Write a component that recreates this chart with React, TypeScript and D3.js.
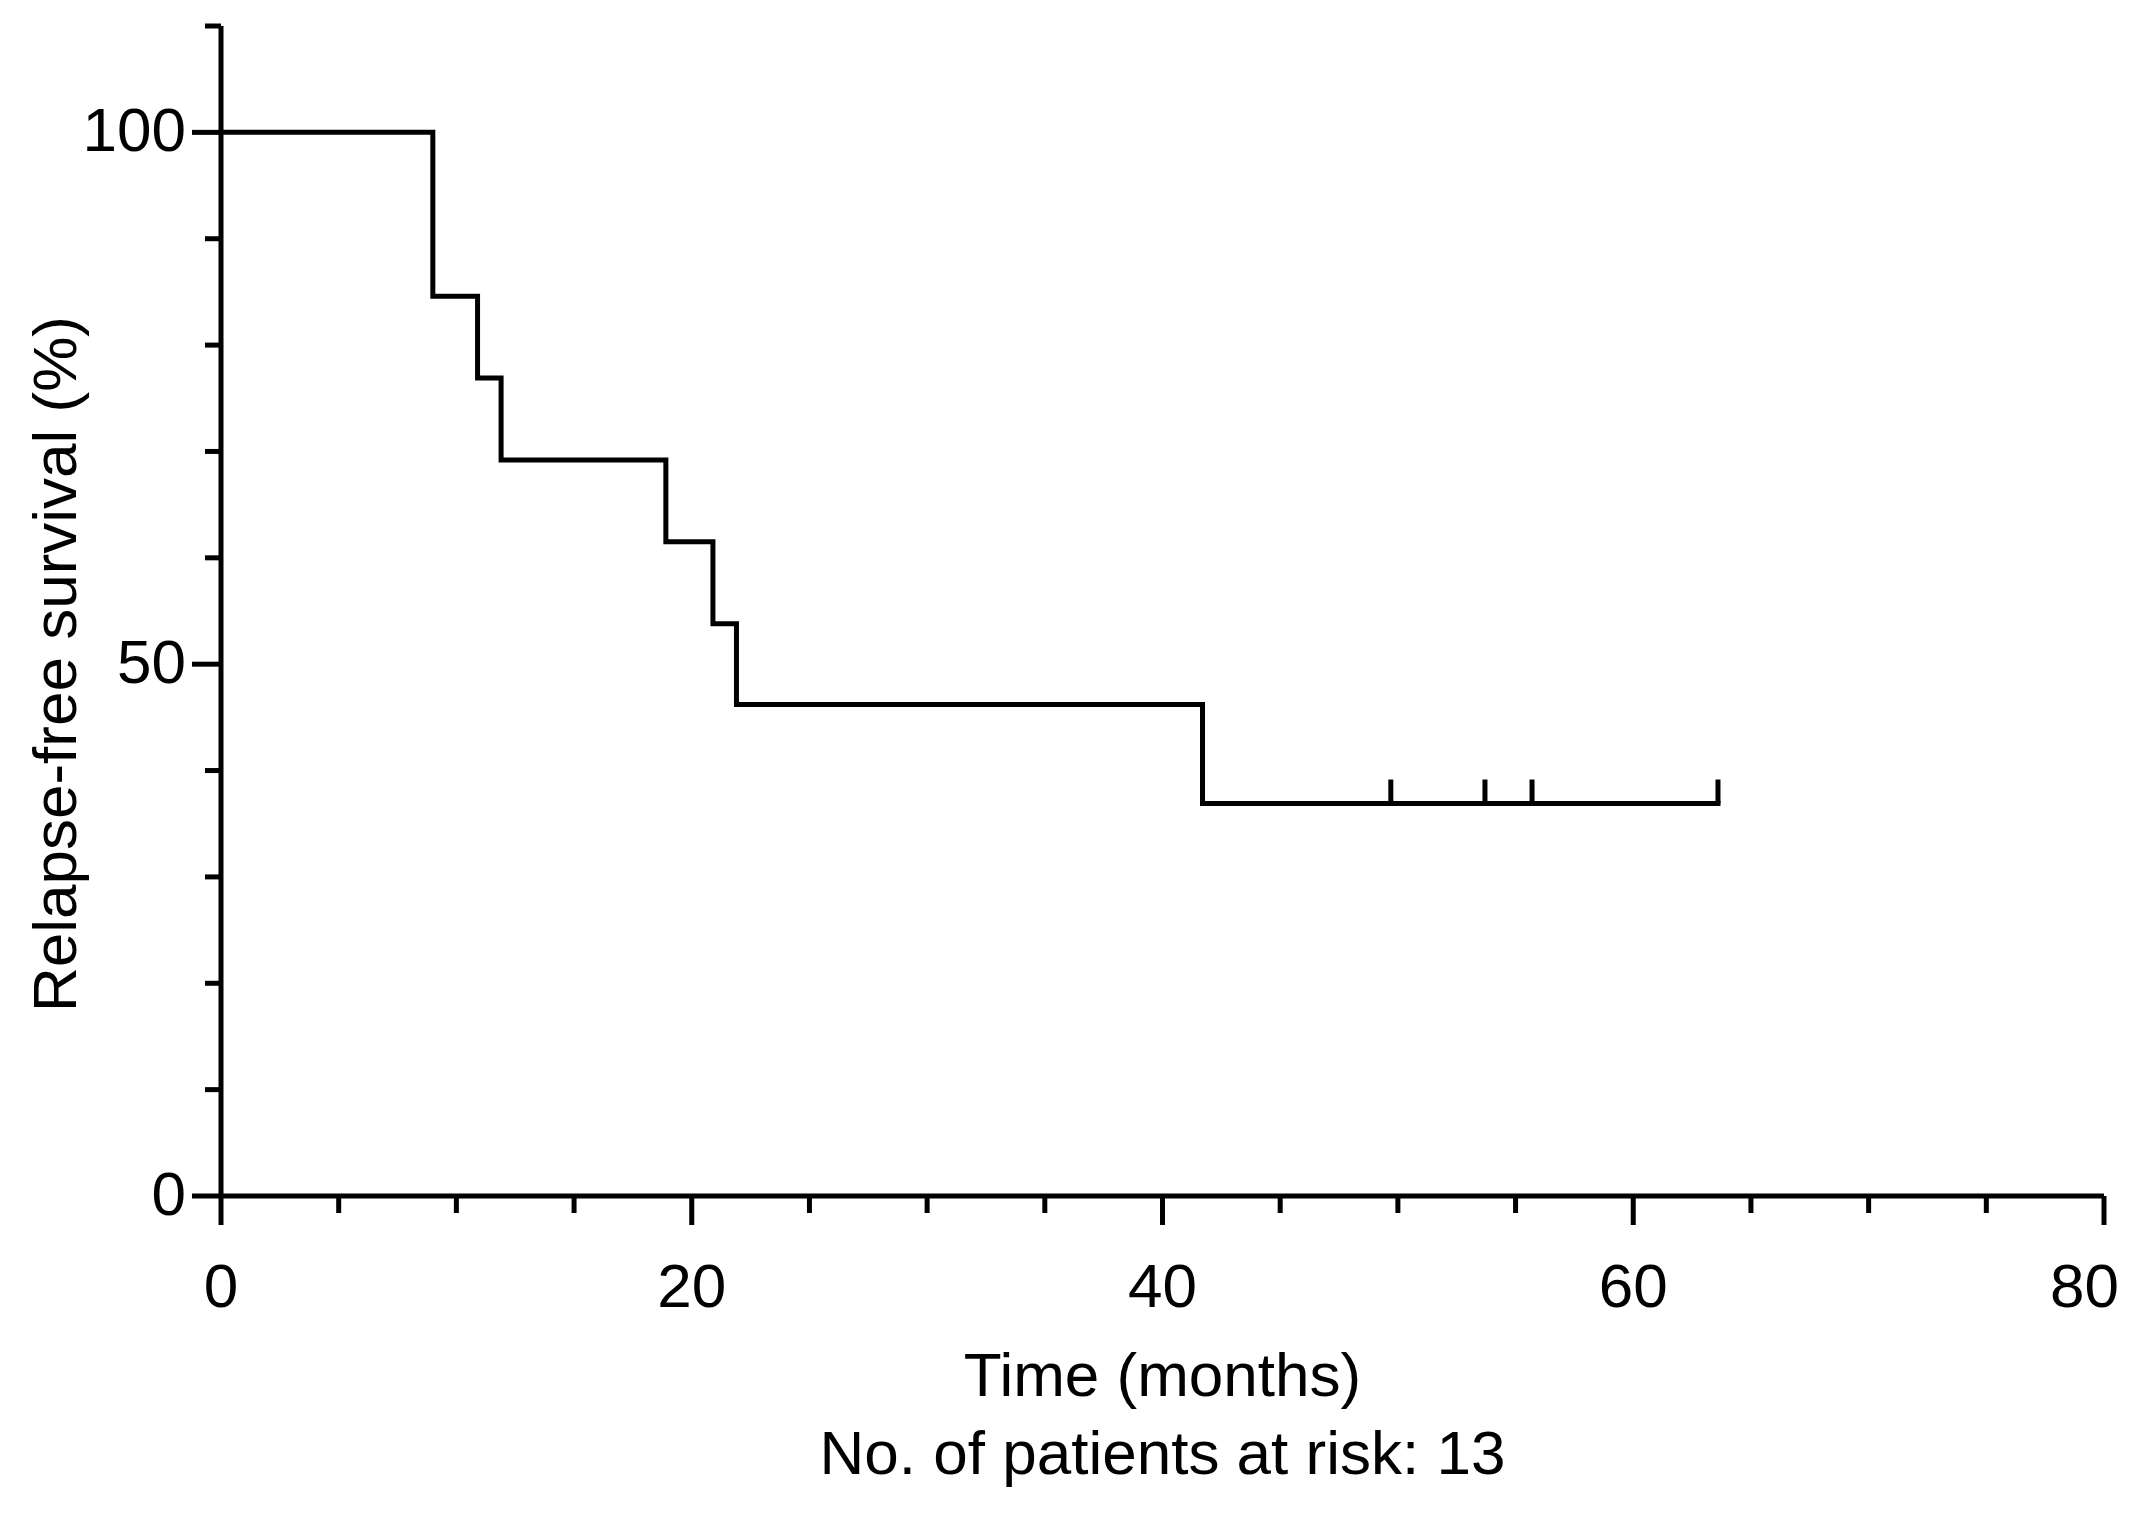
import { useEffect, useRef } from 'react';
import * as d3 from 'd3';

// Kaplan-Meier steps
const stepTimes = [0, 9, 10.9, 11.9, 18.9, 20.9, 21.9, 41.7, 63.6];
const stepSurvival = [100, 84.6, 76.9, 69.2, 61.5, 53.8, 46.2, 36.9, 36.9];
const censorTimes = [49.7, 53.7, 55.7, 63.6];
const censorSurvival = [36.9, 36.9, 36.9, 36.9];

const xMajorTicks = [0, 20, 40, 60, 80];
const xMinorTicks = [5, 10, 15, 25, 30, 35, 45, 50, 55, 65, 70, 75];
const yMajorTicks = [0, 50, 100];
const yMinorTicks = [10, 20, 30, 40, 60, 70, 80, 90, 110];

const xTitle = 'Time (months)';
const xSubtitle = 'No. of patients at risk: 13';
const yTitle = 'Relapse-free survival (%)';

const WIDTH = 2146;
const HEIGHT = 1513;
const FONT = '"Liberation Sans", Arial, sans-serif';

export default function App() {
  const svgRef = useRef<SVGSVGElement>(null);

  useEffect(() => {
    document.body.style.margin = '0';
    if (!svgRef.current) return;

    const svg = d3.select(svgRef.current);
    svg.selectAll('*').remove();

    const left = 221;
    const right = 2104;
    const top = 26;
    const bottom = 1196;
    const sw = 5;

    const x = d3.scaleLinear().domain([0, 80]).range([left, right]);
    const y = d3.scaleLinear().domain([0, 110]).range([bottom, top]);

    svg.append('rect').attr('width', WIDTH).attr('height', HEIGHT).attr('fill', '#fff');

    const axes = svg.append('g').attr('stroke', '#000').attr('stroke-width', sw);

    // axis lines
    axes.append('line')
      .attr('x1', x(0)).attr('x2', x(0))
      .attr('y1', y(110)).attr('y2', y(0));
    axes.append('line')
      .attr('x1', x(0)).attr('x2', x(80))
      .attr('y1', y(0)).attr('y2', y(0));

    // y ticks
    axes.selectAll('.ymaj').data(yMajorTicks).enter().append('line')
      .attr('x1', x(0) - 29).attr('x2', x(0))
      .attr('y1', d => y(d)).attr('y2', d => y(d));
    axes.selectAll('.ymin').data(yMinorTicks).enter().append('line')
      .attr('x1', x(0) - 16).attr('x2', x(0))
      .attr('y1', d => y(d)).attr('y2', d => y(d));

    // x ticks
    axes.selectAll('.xmaj').data(xMajorTicks).enter().append('line')
      .attr('x1', d => x(d)).attr('x2', d => x(d))
      .attr('y1', y(0)).attr('y2', y(0) + 29);
    axes.selectAll('.xmin').data(xMinorTicks).enter().append('line')
      .attr('x1', d => x(d)).attr('x2', d => x(d))
      .attr('y1', y(0)).attr('y2', y(0) + 17);

    const labels = svg.append('g')
      .attr('font-family', FONT)
      .attr('font-size', 62)
      .attr('fill', '#000');

    labels.selectAll('.ylab').data(yMajorTicks).enter().append('text')
      .attr('x', x(0) - 35)
      .attr('y', d => y(d) + 19)
      .attr('text-anchor', 'end')
      .text(d => d);

    // last label is pulled in to stay inside the figure, as in the original
    const lastX = xMajorTicks[xMajorTicks.length - 1];
    labels.selectAll('.xlab').data(xMajorTicks).enter().append('text')
      .attr('x', d => (d === lastX ? x(d) + 15 : x(d)))
      .attr('y', y(0) + 111)
      .attr('text-anchor', d => (d === lastX ? 'end' : 'middle'))
      .text(d => d);

    const cx = (left + right) / 2;
    labels.append('text')
      .attr('x', cx).attr('y', 1396)
      .attr('text-anchor', 'middle')
      .text(xTitle);
    labels.append('text')
      .attr('x', cx).attr('y', 1474)
      .attr('text-anchor', 'middle')
      .text(xSubtitle);

    labels.append('text')
      .attr('transform', 'translate(76, 664) rotate(-90)')
      .attr('text-anchor', 'middle')
      .text(yTitle);

    // survival curve
    const pts = stepTimes.map((t, i) => [t, stepSurvival[i]] as [number, number]);
    const line = d3.line<[number, number]>()
      .x(d => x(d[0]))
      .y(d => y(d[1]))
      .curve(d3.curveStepAfter);

    svg.append('path')
      .attr('d', line(pts))
      .attr('fill', 'none')
      .attr('stroke', '#000')
      .attr('stroke-width', sw)
      .attr('stroke-linejoin', 'miter')
      .attr('stroke-linecap', 'square');

    // censor marks
    svg.append('g').selectAll('line')
      .data(censorTimes.map((t, i) => [t, censorSurvival[i]]))
      .enter().append('line')
      .attr('x1', d => x(d[0])).attr('x2', d => x(d[0]))
      .attr('y1', d => y(d[1])).attr('y2', d => y(d[1]) - 24)
      .attr('stroke', '#000')
      .attr('stroke-width', sw);
  }, []);

  return <svg ref={svgRef} width={WIDTH} height={HEIGHT} style={{ display: 'block' }}></svg>;
}
